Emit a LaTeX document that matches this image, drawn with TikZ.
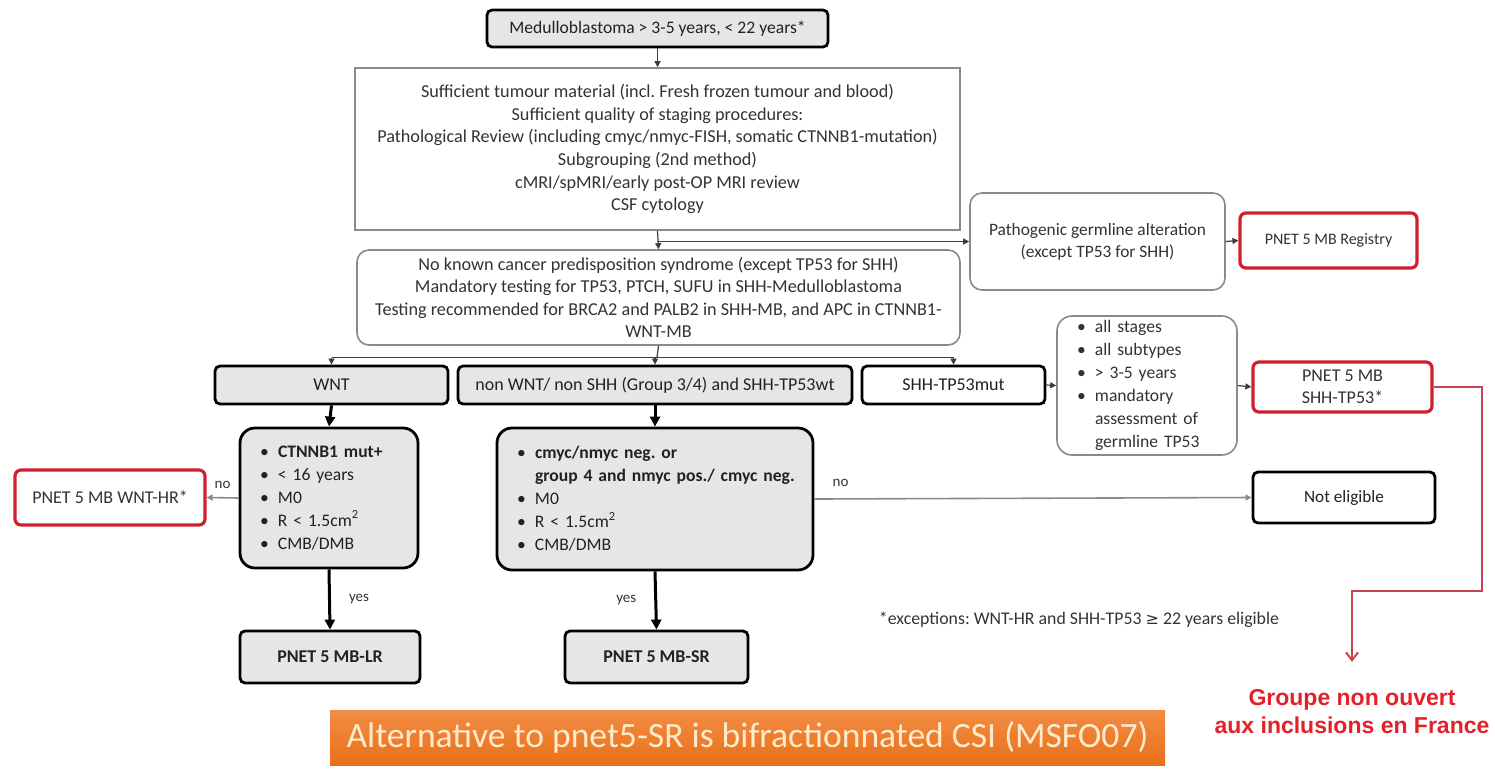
\documentclass[tikz,border=0pt]{standalone}
\usepackage{fontspec}
\setmainfont{Carlito}
\newfontfamily\arialfont{Liberation Sans}
\newfontfamily\symfont{DejaVu Sans}
\usetikzlibrary{arrows.meta}
\definecolor{txt}{HTML}{333333}
\definecolor{darktxt}{HTML}{222222}
\definecolor{boxgrey}{HTML}{E6E6E6}
\definecolor{linegrey}{HTML}{8A8A8A}
\definecolor{conncol}{HTML}{3C3C3C}
\definecolor{redc}{HTML}{D0202E}
\definecolor{redline}{HTML}{C8464F}
\definecolor{redtxt}{HTML}{E4202A}
\definecolor{orangetop}{HTML}{F28C45}
\definecolor{orangebot}{HTML}{EA7018}
\definecolor{bannertxt}{HTML}{FDEBCB}
\newcommand{\bitem}[1]{\makebox[9pt][l]{\textbullet}#1}
\newcommand{\bcont}[1]{\hspace*{9pt}#1}
\frenchspacing
\begin{document}
\begin{tikzpicture}[x=0.5pt,y=-0.5pt,
  base/.style={font=\fontsize{9}{11}\selectfont, text=txt, align=center, inner sep=2pt},
  blackbox/.style={base, text=darktxt, draw=black, line width=1.4pt, rounded corners=2.5pt},
  greyfill/.style={fill=boxgrey},
  thinbox/.style={base, draw=linegrey, line width=0.8pt, fill=white},
  redbox/.style={base, draw=redc, line width=1.6pt, rounded corners=3pt, fill=white},
  listtext/.style={align=left, font=\fontsize{8.8}{11.5}\selectfont},
  conn/.style={draw=conncol, line width=0.6pt, -{Triangle[length=3pt,width=3pt]}},
  plainline/.style={draw=conncol, line width=0.6pt},
  strongarrow/.style={draw=black, line width=1.5pt, -{Triangle[length=5pt,width=5pt]}},
  noline/.style={draw=linegrey, line width=0.8pt, -{Triangle[length=3pt,width=3pt]}},
  lbl/.style={font=\fontsize{7.5}{8}\selectfont, text=txt, inner sep=1pt}
]
\useasboundingbox (0,0) rectangle (1495,768);

% entry and eligibility checks
\node[blackbox, greyfill, minimum width=170.5pt, minimum height=18.5pt, font=\fontsize{8.8}{10}\selectfont] (top) at (657.5,28.5)
  {Medulloblastoma > 3-5 years, < 22 years*};
\node[thinbox, minimum width=302.5pt, minimum height=81pt, font=\fontsize{9.1}{11.3}\selectfont] (big) at (657.5,149)
  {Sufficient tumour material (incl. Fresh frozen  tumour  and blood)\\
   Sufficient quality of staging procedures:\\
   Pathological Review (including cmyc/nmyc-FISH, somatic CTNNB1-mutation)\\
   Subgrouping  (2nd method)\\
   cMRI/spMRI/early post-OP MRI review\\
   CSF cytology};
\node[thinbox, rounded corners=6pt, minimum width=301.5pt, minimum height=47.5pt,
      font=\fontsize{9.1}{11.2}\selectfont] (box3) at (658.5,297.5)
  {No known  cancer predisposition syndrome (except TP53 for SHH)\\
   Mandatory testing for TP53, PTCH, SUFU in SHH-Medulloblastoma\\
   Testing recommended  for BRCA2 and PALB2 in SHH-MB, and APC in CTNNB1-\\
   WNT-MB};
\node[thinbox, rounded corners=6pt, minimum width=127.5pt, minimum height=48.5pt,
      font=\fontsize{8.7}{11}\selectfont] (patho) at (1097.5,241.5)
  {Pathogenic germline alteration\\(except TP53 for SHH)};
\node[redbox, minimum width=88.5pt, minimum height=27.5pt, font=\fontsize{8}{10}\selectfont] (registry) at (1328.5,240.5)
  {PNET 5 MB Registry};

% subgroup row
\node[blackbox, greyfill, minimum width=116.5pt, minimum height=19pt] (wnt) at (331.5,385) {WNT};
\node[blackbox, greyfill, minimum width=197pt, minimum height=19pt] (nonwnt) at (655,385)
  {non WNT/ non SHH (Group 3/4) and SHH-TP53wt};
\node[blackbox, fill=white, minimum width=91.5pt, minimum height=19pt] (shh) at (953.5,385)
  {SHH-TP53mut};
\node[thinbox, rounded corners=7.5pt, listtext, inner xsep=10pt, text width=70pt,
      minimum height=69.5pt] (crit) at (1147,385.5)
  {\bitem{all stages}\\ \bitem{all subtypes}\\ \bitem{> 3-5 years}\\
   \bitem{mandatory}\\ \bcont{assessment of}\\ \bcont{germline TP53}};
\node[redbox, minimum width=89.5pt, minimum height=25pt] (shhtp) at (1342.5,387)
  {PNET 5 MB\\SHH-TP53*};

% risk criteria
\node[blackbox, greyfill, rounded corners=7.5pt, listtext, inner xsep=10pt, text width=69pt,
      minimum height=70pt] (ctn) at (329,498)
  {\bitem{\textbf{CTNNB1 mut+}}\\ \bitem{< 16 years}\\ \bitem{M0}\\
   \bitem{R < 1.5cm\textsuperscript{2}}\\ \bitem{CMB/DMB}};
\node[blackbox, greyfill, rounded corners=7.5pt, listtext, inner xsep=10pt, text width=138pt,
      minimum height=71pt] (myc) at (655,499)
  {\bitem{\textbf{cmyc/nmyc neg. or}}\\ \bcont{\mbox{\textbf{group 4 and nmyc pos./ cmyc neg.}}}\\
   \bitem{M0}\\ \bitem{R < 1.5cm\textsuperscript{2}}\\ \bitem{CMB/DMB}};
\node[redbox, minimum width=95pt, minimum height=27.5pt] (wnthr) at (110,497.5)
  {PNET 5 MB WNT-HR*};
\node[blackbox, fill=white, minimum width=91pt, minimum height=25.5pt, font=\fontsize{8.6}{10}\selectfont] (noel) at (1344,497.5)
  {Not eligible};

% treatment arms
\node[blackbox, greyfill, minimum width=90pt, minimum height=26pt, font=\fontsize{9}{11}\selectfont\bfseries] (lr) at (330,657)
  {PNET 5 MB-LR};
\node[blackbox, greyfill, minimum width=91.5pt, minimum height=26pt, font=\fontsize{9}{11}\selectfont\bfseries] (sr) at (656.5,657)
  {PNET 5 MB-SR};

% notes
\node[base, font=\fontsize{8.9}{10}\selectfont] (foot) at (1079,620)
  {*exceptions: WNT-HR and SHH-TP53 {\symfont\fontsize{8}{10}\selectfont ≥} 22 years eligible};
\node[font=\arialfont\bfseries\fontsize{11.5}{14}\selectfont, text=redtxt, align=center, inner sep=0pt] (groupe) at (1352,712)
  {Groupe non ouvert\\aux inclusions en France};
\node[top color=orangetop, bottom color=orangebot, draw=none, minimum width=417.5pt, minimum height=27.5pt,
      text=bannertxt, font=\fontsize{17.8}{20}\selectfont, inner sep=0pt] (alt) at (747.5,737.5)
  {Alternative to pnet5-SR is bifractionnated CSI (MSFO07)};

% connectors
\coordinate (br) at (657,357.5);
\coordinate (redA) at (1482,387);
\coordinate (redB) at (1482,591);
\coordinate (redC) at (1352,591);
\coordinate (redEnd) at (1352,662);

\draw[conn] (top.south) -- (big.north);
\draw[conn] (big.south) -- (box3.north);
\draw[conn] (big.south |- patho.west) -- (patho.west);
\draw[conn] (patho.east) -- (registry.west);

\draw[plainline] (box3.south) -- (br);
\draw[plainline] (wnt.north |- br) -- (shh.north |- br);
\draw[conn] (wnt.north |- br) -- (wnt.north);
\draw[conn] (nonwnt.north |- br) -- (nonwnt.north);
\draw[conn] (shh.north |- br) -- (shh.north);

\draw[conn] (shh.east) -- (crit.west);
\draw[conn] (crit.east) -- (shhtp.west);

\draw[strongarrow] (wnt.south) -- (ctn.north);
\draw[strongarrow] (nonwnt.south) -- (myc.north);

\draw[noline] (ctn.west) -- node[lbl, above, yshift=3pt] {no} (wnthr.east);
\draw[noline] (myc.east) -- node[lbl, pos=0.06, above, yshift=5pt] {no} (noel.west);

\draw[strongarrow] (ctn.south) -- node[lbl, right, xshift=8pt] {yes} (lr.north);
\draw[strongarrow] (myc.south) -- node[lbl, left, xshift=-8pt] {yes} (sr.north);

\draw[draw=redline, line width=1pt, -{Straight Barb[length=4pt,width=6pt]}]
  (shhtp.east) -- (redA) -- (redB) -- (redC) -- (redEnd);
\end{tikzpicture}
\end{document}
